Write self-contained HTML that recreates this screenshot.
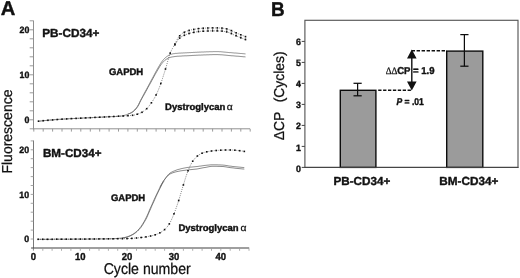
<!DOCTYPE html>
<html>
<head>
<meta charset="utf-8">
<title>Figure</title>
<style>
html, body { margin: 0; padding: 0; background: #ffffff; }
body { width: 520px; height: 278px; overflow: hidden; font-family: "Liberation Sans", sans-serif; }
svg { display: block; filter: blur(0.35px); }
text { font-family: "Liberation Sans", sans-serif; text-rendering: geometricPrecision; }
</style>
</head>
<body>
<svg width="520" height="278" viewBox="0 0 520 278">
<rect x="-5" y="-5" width="530" height="288" fill="#ffffff"/>
<g stroke="#909090" stroke-width="1" fill="none">
<line x1="33.5" y1="20.6" x2="33.5" y2="129.3"/>
<line x1="33.0" y1="128.8" x2="250.0" y2="128.8"/>
<line x1="29.7" y1="128.8" x2="33.5" y2="128.8" stroke-width="0.9"/>
<line x1="29.7" y1="119.8" x2="33.5" y2="119.8" stroke-width="0.9"/>
<line x1="29.7" y1="110.8" x2="33.5" y2="110.8" stroke-width="0.9"/>
<line x1="29.7" y1="101.8" x2="33.5" y2="101.8" stroke-width="0.9"/>
<line x1="29.7" y1="92.8" x2="33.5" y2="92.8" stroke-width="0.9"/>
<line x1="29.7" y1="83.8" x2="33.5" y2="83.8" stroke-width="0.9"/>
<line x1="29.7" y1="74.8" x2="33.5" y2="74.8" stroke-width="0.9"/>
<line x1="29.7" y1="65.8" x2="33.5" y2="65.8" stroke-width="0.9"/>
<line x1="29.7" y1="56.8" x2="33.5" y2="56.8" stroke-width="0.9"/>
<line x1="29.7" y1="47.8" x2="33.5" y2="47.8" stroke-width="0.9"/>
<line x1="29.7" y1="38.8" x2="33.5" y2="38.8" stroke-width="0.9"/>
<line x1="29.7" y1="29.8" x2="33.5" y2="29.8" stroke-width="0.9"/>
<line x1="29.7" y1="20.8" x2="33.5" y2="20.8" stroke-width="0.9"/>
<line x1="33.8" y1="128.8" x2="33.8" y2="131.60000000000002" stroke-width="0.9"/>
<line x1="43.2" y1="128.8" x2="43.2" y2="131.60000000000002" stroke-width="0.9"/>
<line x1="52.6" y1="128.8" x2="52.6" y2="131.60000000000002" stroke-width="0.9"/>
<line x1="62.0" y1="128.8" x2="62.0" y2="131.60000000000002" stroke-width="0.9"/>
<line x1="71.4" y1="128.8" x2="71.4" y2="131.60000000000002" stroke-width="0.9"/>
<line x1="80.8" y1="128.8" x2="80.8" y2="131.60000000000002" stroke-width="0.9"/>
<line x1="90.3" y1="128.8" x2="90.3" y2="131.60000000000002" stroke-width="0.9"/>
<line x1="99.7" y1="128.8" x2="99.7" y2="131.60000000000002" stroke-width="0.9"/>
<line x1="109.1" y1="128.8" x2="109.1" y2="131.60000000000002" stroke-width="0.9"/>
<line x1="118.5" y1="128.8" x2="118.5" y2="131.60000000000002" stroke-width="0.9"/>
<line x1="127.9" y1="128.8" x2="127.9" y2="131.60000000000002" stroke-width="0.9"/>
<line x1="137.3" y1="128.8" x2="137.3" y2="131.60000000000002" stroke-width="0.9"/>
<line x1="146.7" y1="128.8" x2="146.7" y2="131.60000000000002" stroke-width="0.9"/>
<line x1="156.1" y1="128.8" x2="156.1" y2="131.60000000000002" stroke-width="0.9"/>
<line x1="165.5" y1="128.8" x2="165.5" y2="131.60000000000002" stroke-width="0.9"/>
<line x1="174.9" y1="128.8" x2="174.9" y2="131.60000000000002" stroke-width="0.9"/>
<line x1="184.4" y1="128.8" x2="184.4" y2="131.60000000000002" stroke-width="0.9"/>
<line x1="193.8" y1="128.8" x2="193.8" y2="131.60000000000002" stroke-width="0.9"/>
<line x1="203.2" y1="128.8" x2="203.2" y2="131.60000000000002" stroke-width="0.9"/>
<line x1="212.6" y1="128.8" x2="212.6" y2="131.60000000000002" stroke-width="0.9"/>
<line x1="222.0" y1="128.8" x2="222.0" y2="131.60000000000002" stroke-width="0.9"/>
<line x1="231.4" y1="128.8" x2="231.4" y2="131.60000000000002" stroke-width="0.9"/>
<line x1="240.8" y1="128.8" x2="240.8" y2="131.60000000000002" stroke-width="0.9"/>
<line x1="250.2" y1="128.8" x2="250.2" y2="131.60000000000002" stroke-width="0.9"/>
</g>
<g stroke="#787878" stroke-width="1" fill="none">
<line x1="33.5" y1="140.5" x2="33.5" y2="250.2"/>
<line x1="30.7" y1="239.0" x2="33.5" y2="239.0" stroke="#9c9c9c" stroke-width="0.9"/>
<line x1="30.7" y1="230.1" x2="33.5" y2="230.1" stroke="#9c9c9c" stroke-width="0.9"/>
<line x1="30.7" y1="221.2" x2="33.5" y2="221.2" stroke="#9c9c9c" stroke-width="0.9"/>
<line x1="30.7" y1="212.2" x2="33.5" y2="212.2" stroke="#9c9c9c" stroke-width="0.9"/>
<line x1="30.7" y1="203.3" x2="33.5" y2="203.3" stroke="#9c9c9c" stroke-width="0.9"/>
<line x1="30.7" y1="194.4" x2="33.5" y2="194.4" stroke="#9c9c9c" stroke-width="0.9"/>
<line x1="30.7" y1="185.5" x2="33.5" y2="185.5" stroke="#9c9c9c" stroke-width="0.9"/>
<line x1="30.7" y1="176.6" x2="33.5" y2="176.6" stroke="#9c9c9c" stroke-width="0.9"/>
<line x1="30.7" y1="167.6" x2="33.5" y2="167.6" stroke="#9c9c9c" stroke-width="0.9"/>
<line x1="30.7" y1="158.7" x2="33.5" y2="158.7" stroke="#9c9c9c" stroke-width="0.9"/>
<line x1="30.7" y1="149.8" x2="33.5" y2="149.8" stroke="#9c9c9c" stroke-width="0.9"/>
<line x1="30.7" y1="140.9" x2="33.5" y2="140.9" stroke="#9c9c9c" stroke-width="0.9"/>
</g>
<line x1="31.1" y1="248.0" x2="249.2" y2="248.0" stroke="#404040" stroke-width="1.2"/>
<g stroke="#9a9a9a" stroke-width="0.8" fill="none">
<line x1="33.4" y1="248.5" x2="33.4" y2="250.8"/>
<line x1="42.8" y1="248.5" x2="42.8" y2="250.8"/>
<line x1="52.1" y1="248.5" x2="52.1" y2="250.8"/>
<line x1="61.5" y1="248.5" x2="61.5" y2="250.8"/>
<line x1="70.9" y1="248.5" x2="70.9" y2="250.8"/>
<line x1="80.3" y1="248.5" x2="80.3" y2="250.8"/>
<line x1="89.6" y1="248.5" x2="89.6" y2="250.8"/>
<line x1="99.0" y1="248.5" x2="99.0" y2="250.8"/>
<line x1="108.4" y1="248.5" x2="108.4" y2="250.8"/>
<line x1="117.7" y1="248.5" x2="117.7" y2="250.8"/>
<line x1="127.1" y1="248.5" x2="127.1" y2="250.8"/>
<line x1="136.5" y1="248.5" x2="136.5" y2="250.8"/>
<line x1="145.9" y1="248.5" x2="145.9" y2="250.8"/>
<line x1="155.2" y1="248.5" x2="155.2" y2="250.8"/>
<line x1="164.6" y1="248.5" x2="164.6" y2="250.8"/>
<line x1="174.0" y1="248.5" x2="174.0" y2="250.8"/>
<line x1="183.4" y1="248.5" x2="183.4" y2="250.8"/>
<line x1="192.7" y1="248.5" x2="192.7" y2="250.8"/>
<line x1="202.1" y1="248.5" x2="202.1" y2="250.8"/>
<line x1="211.5" y1="248.5" x2="211.5" y2="250.8"/>
<line x1="220.8" y1="248.5" x2="220.8" y2="250.8"/>
<line x1="230.2" y1="248.5" x2="230.2" y2="250.8"/>
<line x1="239.6" y1="248.5" x2="239.6" y2="250.8"/>
<line x1="249.0" y1="248.5" x2="249.0" y2="250.8"/>
</g>
<path d="M38.5,121.2 L39.5,121.1 L40.5,121.0 L41.5,120.9 L42.5,120.8 L43.5,120.7 L44.5,120.6 L45.5,120.5 L46.5,120.4 L47.5,120.3 L48.5,120.2 L49.5,120.1 L50.5,120.0 L51.5,120.0 L52.5,119.9 L53.5,119.8 L54.5,119.7 L55.5,119.6 L56.5,119.6 L57.5,119.5 L58.5,119.4 L59.5,119.3 L60.5,119.3 L61.5,119.2 L62.5,119.1 L63.5,119.1 L64.5,119.0 L65.5,119.0 L66.5,118.9 L67.5,118.8 L68.5,118.8 L69.5,118.7 L70.5,118.7 L71.5,118.6 L72.5,118.6 L73.5,118.5 L74.5,118.5 L75.5,118.4 L76.5,118.4 L77.5,118.3 L78.5,118.3 L79.5,118.2 L80.5,118.2 L81.5,118.1 L82.5,118.1 L83.5,118.0 L84.5,118.0 L85.5,117.9 L86.5,117.9 L87.5,117.8 L88.5,117.8 L89.5,117.7 L90.5,117.7 L91.5,117.6 L92.5,117.6 L93.5,117.5 L94.5,117.5 L95.5,117.4 L96.5,117.4 L97.5,117.3 L98.5,117.3 L99.5,117.2 L100.5,117.2 L101.5,117.1 L102.5,117.1 L103.5,117.0 L104.5,117.0 L105.5,116.9 L106.5,116.9 L107.5,116.8 L108.5,116.8 L109.5,116.7 L110.5,116.7 L111.5,116.6 L112.5,116.6 L113.5,116.5 L114.5,116.5 L115.5,116.5 L116.5,116.4 L117.5,116.4 L118.5,116.3 L119.5,116.2 L120.5,116.1 L121.5,116.0 L122.5,115.8 L123.5,115.6 L124.5,115.3 L125.5,115.0 L126.5,114.7 L127.5,114.3 L128.5,113.9 L129.5,113.5 L130.5,113.0 L131.5,112.4 L132.5,111.7 L133.5,110.9 L134.5,110.0 L135.5,108.9 L136.5,107.7 L137.5,106.3 L138.5,104.6 L139.5,102.5 L140.5,100.4 L141.5,98.5 L142.5,96.6 L143.5,94.8 L144.5,92.9 L145.5,91.1 L146.5,89.3 L147.5,87.4 L148.5,85.5 L149.5,83.7 L150.5,81.8 L151.5,79.9 L152.5,78.1 L153.5,76.2 L154.5,74.3 L155.5,72.4 L156.5,70.6 L157.5,68.8 L158.5,67.1 L159.5,65.4 L160.5,63.7 L161.5,62.2 L162.5,60.9 L163.5,59.6 L164.5,58.5 L165.5,57.6 L166.5,56.8 L167.5,56.1 L168.5,55.4 L169.5,54.9 L170.5,54.5 L171.5,54.2 L172.5,53.9 L173.5,53.7 L174.5,53.6 L175.5,53.4 L176.5,53.4 L177.5,53.3 L178.5,53.2 L179.5,53.1 L180.5,53.1 L181.5,53.0 L182.5,53.0 L183.5,52.9 L184.5,52.9 L185.5,52.8 L186.5,52.8 L187.5,52.7 L188.5,52.7 L189.5,52.6 L190.5,52.6 L191.5,52.5 L192.5,52.5 L193.5,52.4 L194.5,52.4 L195.5,52.3 L196.5,52.3 L197.5,52.2 L198.5,52.2 L199.5,52.1 L200.5,52.1 L201.5,52.0 L202.5,52.0 L203.5,52.0 L204.5,51.9 L205.5,51.9 L206.5,51.8 L207.5,51.8 L208.5,51.8 L209.5,51.7 L210.5,51.7 L211.5,51.7 L212.5,51.7 L213.5,51.6 L214.5,51.6 L215.5,51.6 L216.5,51.6 L217.5,51.6 L218.5,51.6 L219.5,51.7 L220.5,51.7 L221.5,51.8 L222.5,51.9 L223.5,52.0 L224.5,52.1 L225.5,52.2 L226.5,52.3 L227.5,52.4 L228.5,52.5 L229.5,52.6 L230.5,52.6 L231.5,52.7 L232.5,52.8 L233.5,52.9 L234.5,53.0 L235.5,53.0 L236.5,53.1 L237.5,53.2 L238.5,53.3 L239.5,53.4 L240.5,53.5 L241.5,53.5 L242.5,53.6 L243.5,53.7 L244.5,53.8 L245.5,53.9 L245.5,53.9" fill="none" stroke="#606060" stroke-width="0.72"/>
<path d="M127.9,114.1 L128.9,113.7 L129.9,113.4 L130.9,113.0 L131.9,112.6 L132.9,111.9 L133.9,111.1 L134.9,110.1 L135.9,109.1 L136.9,107.8 L137.9,106.3 L138.9,104.5 L139.9,102.4 L140.9,100.4 L141.9,98.6 L142.9,96.8 L143.9,95.0 L144.9,93.2 L145.9,91.4 L146.9,89.6 L147.9,87.7 L148.9,85.9 L149.9,84.1 L150.9,82.3 L151.9,80.4 L152.9,78.6 L153.9,76.8 L154.9,74.9 L155.9,73.1 L156.9,71.4 L157.9,69.7 L158.9,68.0 L159.9,66.3 L160.9,64.8 L161.9,63.5 L162.9,62.3 L163.9,61.3 L164.9,60.3 L165.9,59.5 L166.9,58.9 L167.9,58.4 L168.9,57.9 L169.9,57.5 L170.9,57.2 L171.9,57.0 L172.9,56.8 L173.9,56.7 L174.9,56.5 L175.9,56.4 L176.9,56.3 L177.9,56.2 L178.9,56.2 L179.9,56.1 L180.9,56.1 L181.9,56.0 L182.9,55.9 L183.9,55.9 L184.9,55.8 L185.9,55.8 L186.9,55.8 L187.9,55.7 L188.9,55.7 L189.9,55.6 L190.9,55.6 L191.9,55.5 L192.9,55.4 L193.9,55.4 L194.9,55.3 L195.9,55.3 L196.9,55.2 L197.9,55.2 L198.9,55.1 L199.9,55.1 L200.9,55.1 L201.9,55.0 L202.9,55.0 L203.9,54.9 L204.9,54.9 L205.9,54.9 L206.9,54.8 L207.9,54.8 L208.9,54.8 L209.9,54.7 L210.9,54.7 L211.9,54.7 L212.9,54.6 L213.9,54.6 L214.9,54.6 L215.9,54.6 L216.9,54.6 L217.9,54.6 L218.9,54.7 L219.9,54.7 L220.9,54.8 L221.9,54.8 L222.9,54.9 L223.9,55.0 L224.9,55.1 L225.9,55.2 L226.9,55.3 L227.9,55.4 L228.9,55.5 L229.9,55.6 L230.9,55.7 L231.9,55.8 L232.9,55.8 L233.9,55.9 L234.9,56.0 L235.9,56.1 L236.9,56.2 L237.9,56.2 L238.9,56.3 L239.9,56.4 L240.9,56.5 L241.9,56.6 L242.9,56.7 L243.9,56.8 L244.9,56.8 L245.5,56.9" fill="none" stroke="#606060" stroke-width="0.72"/>
<path d="M38.5,121.2 L39.5,121.1 L40.5,121.0 L41.5,120.9 L42.5,120.8 L43.5,120.7 L44.5,120.6 L45.5,120.5 L46.5,120.4 L47.5,120.3 L48.5,120.2 L49.5,120.1 L50.5,120.0 L51.5,120.0 L52.5,119.9 L53.5,119.8 L54.5,119.7 L55.5,119.6 L56.5,119.6 L57.5,119.5 L58.5,119.4 L59.5,119.3 L60.5,119.3 L61.5,119.2 L62.5,119.1 L63.5,119.1 L64.5,119.0 L65.5,119.0 L66.5,118.9 L67.5,118.8 L68.5,118.8 L69.5,118.7 L70.5,118.7 L71.5,118.6 L72.5,118.6 L73.5,118.5 L74.5,118.5 L75.5,118.4 L76.5,118.4 L77.5,118.3 L78.5,118.3 L79.5,118.2 L80.5,118.2 L81.5,118.1 L82.5,118.1 L83.5,118.0 L84.5,118.0 L85.5,117.9 L86.5,117.9 L87.5,117.8 L88.5,117.8 L89.5,117.7 L90.5,117.7 L91.5,117.6 L92.5,117.6 L93.5,117.5 L94.5,117.5 L95.5,117.4 L96.5,117.4 L97.5,117.3 L98.5,117.3 L99.5,117.2 L100.5,117.2 L101.5,117.1 L102.5,117.1 L103.5,117.0 L104.5,117.0 L105.5,116.9 L106.5,116.9 L107.5,116.8 L108.5,116.8 L109.5,116.7 L110.5,116.7 L111.5,116.6 L112.5,116.6 L113.5,116.5 L114.5,116.5 L115.5,116.4 L116.5,116.4 L117.5,116.3 L118.5,116.2 L119.5,116.2 L120.5,116.1 L121.5,116.1 L122.5,116.0 L123.5,116.0 L124.5,115.9 L125.5,115.9 L126.5,115.8 L127.5,115.7 L128.5,115.7 L129.5,115.6 L130.5,115.5 L131.5,115.4 L132.5,115.3 L133.5,115.2 L134.5,115.0 L135.5,114.7 L136.5,114.4 L137.5,114.1 L138.5,113.8 L139.5,113.4 L140.5,112.9 L141.5,112.5 L142.5,112.0 L143.5,111.3 L144.5,110.6 L145.5,109.8 L146.5,108.9 L147.5,107.9 L148.5,106.7 L149.5,105.4 L150.5,104.1 L151.5,102.7 L152.5,101.2 L153.5,99.6 L154.5,98.0 L155.5,96.1 L156.5,94.2 L157.5,92.0 L158.5,89.6 L159.5,87.1 L160.5,84.4 L161.5,81.6 L162.5,78.5 L163.5,75.4 L164.5,72.2 L165.5,69.1 L166.5,65.8 L167.5,62.0 L168.5,58.3 L169.5,55.0 L170.5,52.5 L171.5,50.3 L172.5,48.4 L173.5,46.6 L174.5,44.8 L175.5,42.9 L176.5,40.9 L177.5,38.9 L178.5,37.2 L179.5,35.9 L180.5,34.9 L181.5,34.0 L182.5,33.2 L183.5,32.6 L184.5,32.2 L185.5,31.7 L186.5,31.3 L187.5,30.9 L188.5,30.6 L189.5,30.3 L190.5,30.0 L191.5,29.8 L192.5,29.6 L193.5,29.4 L194.5,29.2 L195.5,29.1 L196.5,28.9 L197.5,28.7 L198.5,28.6 L199.5,28.5 L200.5,28.4 L201.5,28.3 L202.5,28.2 L203.5,28.2 L204.5,28.1 L205.5,28.1 L206.5,28.0 L207.5,28.0 L208.5,28.0 L209.5,27.9 L210.5,27.9 L211.5,27.9 L212.5,27.9 L213.5,27.9 L214.5,27.9 L215.5,27.9 L216.5,27.9 L217.5,27.9 L218.5,28.0 L219.5,28.0 L220.5,28.0 L221.5,28.1 L222.5,28.2 L223.5,28.3 L224.5,28.5 L225.5,28.7 L226.5,28.9 L227.5,29.1 L228.5,29.4 L229.5,29.8 L230.5,30.2 L231.5,30.7 L232.5,31.2 L233.5,31.7 L234.5,32.1 L235.5,32.6 L236.5,33.0 L237.5,33.4 L238.5,33.8 L239.5,34.2 L240.5,34.6 L241.5,35.0 L242.5,35.4 L243.5,35.8 L244.5,36.2 L245.5,36.6 L245.5,36.6" fill="none" stroke="#333" stroke-width="0.7" stroke-dasharray="0.8 1.2"/>
<rect x="37.7" y="120.4" width="1.6" height="1.6" fill="#111"/>
<rect x="42.4" y="119.9" width="1.6" height="1.6" fill="#111"/>
<rect x="47.1" y="119.5" width="1.6" height="1.6" fill="#111"/>
<rect x="51.8" y="119.1" width="1.6" height="1.6" fill="#111"/>
<rect x="56.5" y="118.7" width="1.6" height="1.6" fill="#111"/>
<rect x="61.2" y="118.4" width="1.6" height="1.6" fill="#111"/>
<rect x="65.9" y="118.1" width="1.6" height="1.6" fill="#111"/>
<rect x="70.6" y="117.8" width="1.6" height="1.6" fill="#111"/>
<rect x="75.3" y="117.6" width="1.6" height="1.6" fill="#111"/>
<rect x="80.0" y="117.4" width="1.6" height="1.6" fill="#111"/>
<rect x="84.8" y="117.1" width="1.6" height="1.6" fill="#111"/>
<rect x="89.5" y="116.9" width="1.6" height="1.6" fill="#111"/>
<rect x="94.2" y="116.6" width="1.6" height="1.6" fill="#111"/>
<rect x="98.9" y="116.4" width="1.6" height="1.6" fill="#111"/>
<rect x="103.6" y="116.2" width="1.6" height="1.6" fill="#111"/>
<rect x="108.3" y="115.9" width="1.6" height="1.6" fill="#111"/>
<rect x="113.0" y="115.7" width="1.6" height="1.6" fill="#111"/>
<rect x="117.7" y="115.4" width="1.6" height="1.6" fill="#111"/>
<rect x="122.4" y="115.2" width="1.6" height="1.6" fill="#111"/>
<rect x="127.1" y="114.9" width="1.6" height="1.6" fill="#111"/>
<rect x="131.8" y="114.5" width="1.6" height="1.6" fill="#111"/>
<rect x="136.5" y="113.4" width="1.6" height="1.6" fill="#111"/>
<rect x="141.2" y="111.5" width="1.6" height="1.6" fill="#111"/>
<rect x="145.9" y="107.9" width="1.6" height="1.6" fill="#111"/>
<rect x="150.6" y="102.0" width="1.6" height="1.6" fill="#111"/>
<rect x="155.3" y="94.1" width="1.6" height="1.6" fill="#111"/>
<rect x="160.0" y="82.7" width="1.6" height="1.6" fill="#111"/>
<rect x="164.7" y="68.2" width="1.6" height="1.6" fill="#111"/>
<rect x="169.4" y="52.3" width="1.6" height="1.6" fill="#111"/>
<rect x="174.1" y="43.2" width="1.6" height="1.6" fill="#111"/>
<rect x="178.9" y="35.0" width="1.6" height="1.6" fill="#111"/>
<rect x="183.6" y="31.4" width="1.6" height="1.6" fill="#111"/>
<rect x="188.3" y="29.6" width="1.6" height="1.6" fill="#111"/>
<rect x="193.0" y="28.6" width="1.6" height="1.6" fill="#111"/>
<rect x="197.7" y="27.8" width="1.6" height="1.6" fill="#111"/>
<rect x="202.4" y="27.4" width="1.6" height="1.6" fill="#111"/>
<rect x="207.1" y="27.2" width="1.6" height="1.6" fill="#111"/>
<rect x="211.8" y="27.1" width="1.6" height="1.6" fill="#111"/>
<rect x="216.5" y="27.1" width="1.6" height="1.6" fill="#111"/>
<rect x="221.2" y="27.3" width="1.6" height="1.6" fill="#111"/>
<rect x="225.9" y="28.1" width="1.6" height="1.6" fill="#111"/>
<rect x="230.6" y="29.8" width="1.6" height="1.6" fill="#111"/>
<rect x="235.3" y="32.0" width="1.6" height="1.6" fill="#111"/>
<rect x="240.0" y="34.0" width="1.6" height="1.6" fill="#111"/>
<rect x="244.7" y="35.8" width="1.6" height="1.6" fill="#111"/>
<rect x="174.4" y="43.9" width="1.1" height="1.1" fill="#888"/>
<rect x="179.1" y="36.4" width="1.1" height="1.1" fill="#888"/>
<rect x="183.8" y="33.2" width="1.1" height="1.1" fill="#888"/>
<rect x="188.5" y="31.4" width="1.1" height="1.1" fill="#888"/>
<rect x="193.2" y="30.3" width="1.1" height="1.1" fill="#888"/>
<rect x="197.9" y="29.6" width="1.1" height="1.1" fill="#888"/>
<rect x="202.6" y="29.1" width="1.1" height="1.1" fill="#888"/>
<rect x="207.3" y="28.9" width="1.1" height="1.1" fill="#888"/>
<rect x="212.0" y="28.9" width="1.1" height="1.1" fill="#888"/>
<rect x="216.7" y="28.9" width="1.1" height="1.1" fill="#888"/>
<rect x="221.4" y="29.1" width="1.1" height="1.1" fill="#888"/>
<rect x="226.2" y="29.9" width="1.1" height="1.1" fill="#888"/>
<rect x="230.9" y="31.6" width="1.1" height="1.1" fill="#888"/>
<rect x="235.6" y="33.8" width="1.1" height="1.1" fill="#888"/>
<rect x="240.3" y="35.7" width="1.1" height="1.1" fill="#888"/>
<rect x="245.0" y="37.6" width="1.1" height="1.1" fill="#888"/>
<path d="M174.9,44.9 L175.9,43.3 L176.9,41.6 L177.9,40.0 L178.9,38.8 L179.9,37.9 L180.9,37.1 L181.9,36.5 L182.9,35.9 L183.9,35.4 L184.9,35.0 L185.9,34.6 L186.9,34.2 L187.9,33.8 L188.9,33.5 L189.9,33.2 L190.9,33.0 L191.9,32.7 L192.9,32.5 L193.9,32.3 L194.9,32.1 L195.9,32.0 L196.9,31.8 L197.9,31.7 L198.9,31.6 L199.9,31.4 L200.9,31.3 L201.9,31.3 L202.9,31.2 L203.9,31.2 L204.9,31.1 L205.9,31.1 L206.9,31.0 L207.9,31.0 L208.9,31.0 L209.9,30.9 L210.9,30.9 L211.9,30.9 L212.9,30.9 L213.9,30.9 L214.9,30.9 L215.9,30.9 L216.9,30.9 L217.9,31.0 L218.9,31.0 L219.9,31.0 L220.9,31.0 L221.9,31.1 L222.9,31.3 L223.9,31.4 L224.9,31.6 L225.9,31.8 L226.9,32.0 L227.9,32.2 L228.9,32.6 L229.9,33.0 L230.9,33.4 L231.9,33.9 L232.9,34.4 L233.9,34.9 L234.9,35.3 L235.9,35.8 L236.9,36.2 L237.9,36.6 L238.9,37.0 L239.9,37.4 L240.9,37.8 L241.9,38.2 L242.9,38.6 L243.9,39.0 L244.9,39.4 L245.5,39.6" fill="none" stroke="#333" stroke-width="0.7" stroke-dasharray="0.8 1.2"/>
<rect x="174.1" y="44.1" width="1.6" height="1.6" fill="#111"/>
<rect x="178.9" y="37.3" width="1.6" height="1.6" fill="#111"/>
<rect x="183.6" y="34.5" width="1.6" height="1.6" fill="#111"/>
<rect x="188.3" y="32.7" width="1.6" height="1.6" fill="#111"/>
<rect x="193.0" y="31.6" width="1.6" height="1.6" fill="#111"/>
<rect x="197.7" y="30.8" width="1.6" height="1.6" fill="#111"/>
<rect x="202.4" y="30.4" width="1.6" height="1.6" fill="#111"/>
<rect x="207.1" y="30.2" width="1.6" height="1.6" fill="#111"/>
<rect x="211.8" y="30.1" width="1.6" height="1.6" fill="#111"/>
<rect x="216.5" y="30.1" width="1.6" height="1.6" fill="#111"/>
<rect x="221.2" y="30.3" width="1.6" height="1.6" fill="#111"/>
<rect x="225.9" y="31.1" width="1.6" height="1.6" fill="#111"/>
<rect x="230.6" y="32.8" width="1.6" height="1.6" fill="#111"/>
<rect x="235.3" y="35.0" width="1.6" height="1.6" fill="#111"/>
<rect x="240.0" y="37.0" width="1.6" height="1.6" fill="#111"/>
<rect x="244.7" y="38.8" width="1.6" height="1.6" fill="#111"/>
<path d="M38.1,239.3 L39.1,239.3 L40.1,239.3 L41.1,239.3 L42.1,239.3 L43.1,239.3 L44.1,239.3 L45.1,239.3 L46.1,239.3 L47.1,239.3 L48.1,239.3 L49.1,239.3 L50.1,239.3 L51.1,239.3 L52.1,239.3 L53.1,239.3 L54.1,239.2 L55.1,239.2 L56.1,239.2 L57.1,239.2 L58.1,239.2 L59.1,239.2 L60.1,239.2 L61.1,239.2 L62.1,239.2 L63.1,239.2 L64.1,239.2 L65.1,239.2 L66.1,239.2 L67.1,239.2 L68.1,239.2 L69.1,239.2 L70.1,239.2 L71.1,239.2 L72.1,239.2 L73.1,239.1 L74.1,239.1 L75.1,239.1 L76.1,239.1 L77.1,239.1 L78.1,239.1 L79.1,239.1 L80.1,239.1 L81.1,239.1 L82.1,239.1 L83.1,239.1 L84.1,239.1 L85.1,239.1 L86.1,239.1 L87.1,239.1 L88.1,239.0 L89.1,239.0 L90.1,239.0 L91.1,239.0 L92.1,239.0 L93.1,239.0 L94.1,239.0 L95.1,239.0 L96.1,239.0 L97.1,239.0 L98.1,239.0 L99.1,239.0 L100.1,238.9 L101.1,238.9 L102.1,238.9 L103.1,238.9 L104.1,238.9 L105.1,238.9 L106.1,238.9 L107.1,238.9 L108.1,238.8 L109.1,238.8 L110.1,238.8 L111.1,238.8 L112.1,238.7 L113.1,238.7 L114.1,238.7 L115.1,238.6 L116.1,238.5 L117.1,238.5 L118.1,238.4 L119.1,238.3 L120.1,238.2 L121.1,238.1 L122.1,238.0 L123.1,237.8 L124.1,237.6 L125.1,237.4 L126.1,237.2 L127.1,236.9 L128.1,236.5 L129.1,236.1 L130.1,235.7 L131.1,235.2 L132.1,234.7 L133.1,234.1 L134.1,233.4 L135.1,232.7 L136.1,231.9 L137.1,231.0 L138.1,230.0 L139.1,229.0 L140.1,227.7 L141.1,226.4 L142.1,224.9 L143.1,223.2 L144.1,221.6 L145.1,219.8 L146.1,217.8 L147.1,215.7 L148.1,213.4 L149.1,211.0 L150.1,208.7 L151.1,206.4 L152.1,204.2 L153.1,202.0 L154.1,199.7 L155.1,197.5 L156.1,195.3 L157.1,193.2 L158.1,191.2 L159.1,189.1 L160.1,187.1 L161.1,185.1 L162.1,183.3 L163.1,181.6 L164.1,180.1 L165.1,178.7 L166.1,177.3 L167.1,176.0 L168.1,174.8 L169.1,173.8 L170.1,173.0 L171.1,172.4 L172.1,171.9 L173.1,171.4 L174.1,171.0 L175.1,170.6 L176.1,170.2 L177.1,169.8 L178.1,169.5 L179.1,169.3 L180.1,169.0 L181.1,168.7 L182.1,168.5 L183.1,168.3 L184.1,168.1 L185.1,167.9 L186.1,167.7 L187.1,167.5 L188.1,167.4 L189.1,167.3 L190.1,167.2 L191.1,167.1 L192.1,167.0 L193.1,166.9 L194.1,166.8 L195.1,166.7 L196.1,166.6 L197.1,166.5 L198.1,166.4 L199.1,166.2 L200.1,166.1 L201.1,166.0 L202.1,165.8 L203.1,165.7 L204.1,165.5 L205.1,165.4 L206.1,165.3 L207.1,165.2 L208.1,165.1 L209.1,165.0 L210.1,164.9 L211.1,164.8 L212.1,164.8 L213.1,164.8 L214.1,164.8 L215.1,164.8 L216.1,164.8 L217.1,164.8 L218.1,164.9 L219.1,164.9 L220.1,164.9 L221.1,165.0 L222.1,165.0 L223.1,165.1 L224.1,165.2 L225.1,165.3 L226.1,165.5 L227.1,165.6 L228.1,165.8 L229.1,166.0 L230.1,166.1 L231.1,166.2 L232.1,166.4 L233.1,166.5 L234.1,166.6 L235.1,166.7 L236.1,166.8 L237.1,166.9 L238.1,167.0 L239.1,167.1 L240.1,167.2 L241.1,167.3 L242.1,167.4 L243.1,167.5 L244.1,167.6 L244.3,167.6" fill="none" stroke="#606060" stroke-width="0.72"/>
<path d="M160.0,187.2 L161.0,185.3 L162.0,183.4 L163.0,181.8 L164.0,180.4 L165.0,179.1 L166.0,177.8 L167.0,176.7 L168.0,175.6 L169.0,174.7 L170.0,174.0 L171.0,173.5 L172.0,173.1 L173.0,172.7 L174.0,172.4 L175.0,172.1 L176.0,171.8 L177.0,171.6 L178.0,171.4 L179.0,171.2 L180.0,171.0 L181.0,170.8 L182.0,170.7 L183.0,170.5 L184.0,170.4 L185.0,170.3 L186.0,170.1 L187.0,170.0 L188.0,169.9 L189.0,169.8 L190.0,169.7 L191.0,169.6 L192.0,169.5 L193.0,169.4 L194.0,169.3 L195.0,169.2 L196.0,169.1 L197.0,169.0 L198.0,168.8 L199.0,168.6 L200.0,168.4 L201.0,168.2 L202.0,168.0 L203.0,167.8 L204.0,167.6 L205.0,167.5 L206.0,167.3 L207.0,167.1 L208.0,166.9 L209.0,166.7 L210.0,166.5 L211.0,166.4 L212.0,166.3 L213.0,166.3 L214.0,166.3 L215.0,166.3 L216.0,166.3 L217.0,166.3 L218.0,166.4 L219.0,166.4 L220.0,166.4 L221.0,166.5 L222.0,166.5 L223.0,166.5 L224.0,166.6 L225.0,166.8 L226.0,166.9 L227.0,167.1 L228.0,167.3 L229.0,167.4 L230.0,167.6 L231.0,167.7 L232.0,167.8 L233.0,167.9 L234.0,168.0 L235.0,168.2 L236.0,168.3 L237.0,168.4 L238.0,168.5 L239.0,168.6 L240.0,168.7 L241.0,168.8 L242.0,168.9 L243.0,169.0 L244.0,169.0 L244.3,169.1" fill="none" stroke="#606060" stroke-width="0.72"/>
<path d="M122.0,238.1 L123.0,237.9 L124.0,237.8 L125.0,237.6 L126.0,237.3 L127.0,237.1 L128.0,236.8 L129.0,236.4 L130.0,236.0 L131.0,235.5 L132.0,235.0 L133.0,234.5 L134.0,233.9 L135.0,233.2 L136.0,232.4 L137.0,231.6 L138.0,230.6 L139.0,229.7 L140.0,228.5 L141.0,227.3 L142.0,225.8 L143.0,224.3 L144.0,222.6 L145.0,220.9 L146.0,219.1 L147.0,217.1 L148.0,214.8 L149.0,212.5 L150.0,210.2 L151.0,207.9 L152.0,205.6 L153.0,203.4 L154.0,201.2 L155.0,198.9 L156.0,196.7 L157.0,194.6 L158.0,192.5 L159.0,190.4 L160.0,188.4 L161.0,186.4 L162.0,184.4 L163.0,182.7 L164.0,181.1" fill="none" stroke="#606060" stroke-width="0.72"/>
<path d="M38.1,239.3 L39.1,239.3 L40.1,239.3 L41.1,239.3 L42.1,239.3 L43.1,239.3 L44.1,239.3 L45.1,239.3 L46.1,239.3 L47.1,239.3 L48.1,239.3 L49.1,239.3 L50.1,239.3 L51.1,239.3 L52.1,239.3 L53.1,239.3 L54.1,239.2 L55.1,239.2 L56.1,239.2 L57.1,239.2 L58.1,239.2 L59.1,239.2 L60.1,239.2 L61.1,239.2 L62.1,239.2 L63.1,239.2 L64.1,239.2 L65.1,239.2 L66.1,239.2 L67.1,239.2 L68.1,239.2 L69.1,239.2 L70.1,239.2 L71.1,239.2 L72.1,239.2 L73.1,239.1 L74.1,239.1 L75.1,239.1 L76.1,239.1 L77.1,239.1 L78.1,239.1 L79.1,239.1 L80.1,239.1 L81.1,239.1 L82.1,239.1 L83.1,239.1 L84.1,239.1 L85.1,239.1 L86.1,239.1 L87.1,239.0 L88.1,239.0 L89.1,239.0 L90.1,239.0 L91.1,239.0 L92.1,239.0 L93.1,239.0 L94.1,239.0 L95.1,239.0 L96.1,239.0 L97.1,238.9 L98.1,238.9 L99.1,238.9 L100.1,238.9 L101.1,238.9 L102.1,238.9 L103.1,238.9 L104.1,238.9 L105.1,238.9 L106.1,238.8 L107.1,238.8 L108.1,238.8 L109.1,238.8 L110.1,238.8 L111.1,238.8 L112.1,238.8 L113.1,238.8 L114.1,238.8 L115.1,238.8 L116.1,238.7 L117.1,238.7 L118.1,238.7 L119.1,238.7 L120.1,238.7 L121.1,238.7 L122.1,238.7 L123.1,238.7 L124.1,238.7 L125.1,238.6 L126.1,238.6 L127.1,238.6 L128.1,238.6 L129.1,238.5 L130.1,238.5 L131.1,238.4 L132.1,238.4 L133.1,238.3 L134.1,238.2 L135.1,238.1 L136.1,238.0 L137.1,237.9 L138.1,237.9 L139.1,237.7 L140.1,237.6 L141.1,237.5 L142.1,237.4 L143.1,237.3 L144.1,237.2 L145.1,237.0 L146.1,236.9 L147.1,236.7 L148.1,236.5 L149.1,236.3 L150.1,236.1 L151.1,235.9 L152.1,235.7 L153.1,235.4 L154.1,235.1 L155.1,234.8 L156.1,234.5 L157.1,234.1 L158.1,233.7 L159.1,233.2 L160.1,232.7 L161.1,232.2 L162.1,231.5 L163.1,230.8 L164.1,230.0 L165.1,229.2 L166.1,228.1 L167.1,227.0 L168.1,225.7 L169.1,224.2 L170.1,222.6 L171.1,220.6 L172.1,218.4 L173.1,216.0 L174.1,213.5 L175.1,211.0 L176.1,208.2 L177.1,205.3 L178.1,202.3 L179.1,199.2 L180.1,195.9 L181.1,192.5 L182.1,189.1 L183.1,185.7 L184.1,182.6 L185.1,179.3 L186.1,176.2 L187.1,173.3 L188.1,170.7 L189.1,168.3 L190.1,166.0 L191.1,164.0 L192.1,162.2 L193.1,160.7 L194.1,159.4 L195.1,158.2 L196.1,157.2 L197.1,156.3 L198.1,155.5 L199.1,154.8 L200.1,154.2 L201.1,153.6 L202.1,153.2 L203.1,152.8 L204.1,152.5 L205.1,152.2 L206.1,152.0 L207.1,151.7 L208.1,151.5 L209.1,151.4 L210.1,151.2 L211.1,151.1 L212.1,150.9 L213.1,150.8 L214.1,150.7 L215.1,150.6 L216.1,150.5 L217.1,150.4 L218.1,150.4 L219.1,150.3 L220.1,150.2 L221.1,150.2 L222.1,150.1 L223.1,150.1 L224.1,150.0 L225.1,150.0 L226.1,150.0 L227.1,150.0 L228.1,150.0 L229.1,150.0 L230.1,150.0 L231.1,150.0 L232.1,150.0 L233.1,150.1 L234.1,150.2 L235.1,150.2 L236.1,150.3 L237.1,150.4 L238.1,150.5 L239.1,150.6 L240.1,150.8 L241.1,150.9 L242.1,151.0 L243.1,151.2 L244.1,151.4 L244.3,151.4" fill="none" stroke="#333" stroke-width="0.7" stroke-dasharray="0.8 1.2"/>
<rect x="37.3" y="238.5" width="1.6" height="1.6" fill="#111"/>
<rect x="42.0" y="238.5" width="1.6" height="1.6" fill="#111"/>
<rect x="46.7" y="238.5" width="1.6" height="1.6" fill="#111"/>
<rect x="51.3" y="238.5" width="1.6" height="1.6" fill="#111"/>
<rect x="56.0" y="238.4" width="1.6" height="1.6" fill="#111"/>
<rect x="60.7" y="238.4" width="1.6" height="1.6" fill="#111"/>
<rect x="65.4" y="238.4" width="1.6" height="1.6" fill="#111"/>
<rect x="70.1" y="238.4" width="1.6" height="1.6" fill="#111"/>
<rect x="74.8" y="238.3" width="1.6" height="1.6" fill="#111"/>
<rect x="79.5" y="238.3" width="1.6" height="1.6" fill="#111"/>
<rect x="84.1" y="238.3" width="1.6" height="1.6" fill="#111"/>
<rect x="88.8" y="238.2" width="1.6" height="1.6" fill="#111"/>
<rect x="93.5" y="238.2" width="1.6" height="1.6" fill="#111"/>
<rect x="98.2" y="238.1" width="1.6" height="1.6" fill="#111"/>
<rect x="102.9" y="238.1" width="1.6" height="1.6" fill="#111"/>
<rect x="107.6" y="238.0" width="1.6" height="1.6" fill="#111"/>
<rect x="112.3" y="238.0" width="1.6" height="1.6" fill="#111"/>
<rect x="116.9" y="237.9" width="1.6" height="1.6" fill="#111"/>
<rect x="121.6" y="237.9" width="1.6" height="1.6" fill="#111"/>
<rect x="126.3" y="237.8" width="1.6" height="1.6" fill="#111"/>
<rect x="131.0" y="237.6" width="1.6" height="1.6" fill="#111"/>
<rect x="135.7" y="237.2" width="1.6" height="1.6" fill="#111"/>
<rect x="140.4" y="236.7" width="1.6" height="1.6" fill="#111"/>
<rect x="145.1" y="236.1" width="1.6" height="1.6" fill="#111"/>
<rect x="149.8" y="235.2" width="1.6" height="1.6" fill="#111"/>
<rect x="154.4" y="234.0" width="1.6" height="1.6" fill="#111"/>
<rect x="159.1" y="232.0" width="1.6" height="1.6" fill="#111"/>
<rect x="163.8" y="228.8" width="1.6" height="1.6" fill="#111"/>
<rect x="168.5" y="223.1" width="1.6" height="1.6" fill="#111"/>
<rect x="173.2" y="213.0" width="1.6" height="1.6" fill="#111"/>
<rect x="177.9" y="199.7" width="1.6" height="1.6" fill="#111"/>
<rect x="182.6" y="184.1" width="1.6" height="1.6" fill="#111"/>
<rect x="187.2" y="170.0" width="1.6" height="1.6" fill="#111"/>
<rect x="191.9" y="160.4" width="1.6" height="1.6" fill="#111"/>
<rect x="196.6" y="155.2" width="1.6" height="1.6" fill="#111"/>
<rect x="201.3" y="152.4" width="1.6" height="1.6" fill="#111"/>
<rect x="206.0" y="151.0" width="1.6" height="1.6" fill="#111"/>
<rect x="210.7" y="150.2" width="1.6" height="1.6" fill="#111"/>
<rect x="215.4" y="149.7" width="1.6" height="1.6" fill="#111"/>
<rect x="220.0" y="149.4" width="1.6" height="1.6" fill="#111"/>
<rect x="224.7" y="149.2" width="1.6" height="1.6" fill="#111"/>
<rect x="229.4" y="149.2" width="1.6" height="1.6" fill="#111"/>
<rect x="234.1" y="149.4" width="1.6" height="1.6" fill="#111"/>
<rect x="238.8" y="149.9" width="1.6" height="1.6" fill="#111"/>
<rect x="243.5" y="150.6" width="1.6" height="1.6" fill="#111"/>
<rect x="304.9" y="20.3" width="213.10000000000002" height="147.1" fill="#fff" stroke="#585858" stroke-width="1.15"/>
<line x1="301.7" y1="167.4" x2="304.9" y2="167.4" stroke="#444" stroke-width="1"/>
<line x1="301.7" y1="146.4" x2="304.9" y2="146.4" stroke="#444" stroke-width="1"/>
<line x1="301.7" y1="125.4" x2="304.9" y2="125.4" stroke="#444" stroke-width="1"/>
<line x1="301.7" y1="104.4" x2="304.9" y2="104.4" stroke="#444" stroke-width="1"/>
<line x1="301.7" y1="83.4" x2="304.9" y2="83.4" stroke="#444" stroke-width="1"/>
<line x1="301.7" y1="62.4" x2="304.9" y2="62.4" stroke="#444" stroke-width="1"/>
<line x1="301.7" y1="41.4" x2="304.9" y2="41.4" stroke="#444" stroke-width="1"/>
<rect x="340.3" y="90.3" width="35.6" height="77.1" fill="#9b9b9b" stroke="#0c0c0c" stroke-width="1.4"/>
<rect x="446.7" y="51.1" width="36.1" height="116.3" fill="#9b9b9b" stroke="#0c0c0c" stroke-width="1.4"/>
<line x1="304.4" y1="167.4" x2="518.5" y2="167.4" stroke="#444" stroke-width="1.0"/>
<g stroke="#0c0c0c" stroke-width="1.25" fill="none">
<line x1="357.6" y1="83.3" x2="357.6" y2="95.8"/>
<line x1="353.5" y1="83.3" x2="361.70000000000005" y2="83.3"/>
<line x1="353.5" y1="95.8" x2="361.70000000000005" y2="95.8"/>
</g>
<g stroke="#0c0c0c" stroke-width="1.25" fill="none">
<line x1="464.4" y1="34.6" x2="464.4" y2="66.2"/>
<line x1="460.29999999999995" y1="34.6" x2="468.5" y2="34.6"/>
<line x1="460.29999999999995" y1="66.2" x2="468.5" y2="66.2"/>
</g>
<line x1="378.2" y1="90.2" x2="412.5" y2="90.2" stroke="#111" stroke-width="1.5" stroke-dasharray="3.3 1.6"/>
<line x1="411.6" y1="50.8" x2="446.7" y2="50.8" stroke="#111" stroke-width="1.5" stroke-dasharray="3.4 1.6"/>
<line x1="411.8" y1="56" x2="411.8" y2="84" stroke="#111" stroke-width="1.4"/>
<path d="M411.8,49.5 L407.0,58.6 L416.6,58.6 Z" fill="#111"/>
<path d="M411.8,90.6 L407.0,81.4 L416.6,81.4 Z" fill="#111"/>
<g>
<text transform="translate(0.7,15.3) scale(1.01,1)" font-size="20.0" font-weight="bold" text-anchor="start" fill="#111" stroke="#111" stroke-width="0.4" stroke-linejoin="round" >A</text>
<text transform="translate(271.1,15.5) scale(0.95,1)" font-size="19.9" font-weight="bold" text-anchor="start" fill="#111" stroke="#111" stroke-width="0.4" stroke-linejoin="round" >B</text>
<text transform="translate(42.2,37.0)" font-size="11.75" font-weight="bold" text-anchor="start" fill="#111" stroke="#111" stroke-width="0.4" stroke-linejoin="round" >PB-CD34+</text>
<text transform="translate(42.95,157.35)" font-size="11.65" font-weight="bold" text-anchor="start" fill="#111" stroke="#111" stroke-width="0.4" stroke-linejoin="round" >BM-CD34+</text>
<text transform="translate(108.9,74.9)" font-size="9.5" font-weight="bold" text-anchor="start" fill="#111" stroke="#111" stroke-width="0.4" stroke-linejoin="round" >GAPDH</text>
<text transform="translate(165.1,110.3)" font-size="9.5" font-weight="bold" text-anchor="start" fill="#111" stroke="#111" stroke-width="0.4" stroke-linejoin="round" >Dystroglycan</text>
<text transform="translate(226.7,110.3) scale(1.08,1)" font-size="9.6" font-weight="normal" text-anchor="start" fill="#111" stroke="#111" stroke-width="0.25" stroke-linejoin="round" >&#945;</text>
<text transform="translate(110.9,201.3)" font-size="9.5" font-weight="bold" text-anchor="start" fill="#111" stroke="#111" stroke-width="0.4" stroke-linejoin="round" >GAPDH</text>
<text transform="translate(178.4,230.9)" font-size="9.5" font-weight="bold" text-anchor="start" fill="#111" stroke="#111" stroke-width="0.4" stroke-linejoin="round" >Dystroglycan</text>
<text transform="translate(240.4,230.9) scale(1.08,1)" font-size="9.6" font-weight="normal" text-anchor="start" fill="#111" stroke="#111" stroke-width="0.25" stroke-linejoin="round" >&#945;</text>
<text transform="translate(29.3,32.6) scale(0.96,1)" font-size="9.2" font-weight="bold" text-anchor="end" fill="#111" stroke="#111" stroke-width="0.4" stroke-linejoin="round" >20</text>
<text transform="translate(29.3,78.0) scale(0.96,1)" font-size="9.2" font-weight="bold" text-anchor="end" fill="#111" stroke="#111" stroke-width="0.4" stroke-linejoin="round" >10</text>
<text transform="translate(29.3,123.1) scale(0.96,1)" font-size="9.2" font-weight="bold" text-anchor="end" fill="#111" stroke="#111" stroke-width="0.4" stroke-linejoin="round" >0</text>
<text transform="translate(29.1,152.9) scale(0.96,1)" font-size="9.2" font-weight="bold" text-anchor="end" fill="#111" stroke="#111" stroke-width="0.4" stroke-linejoin="round" >20</text>
<text transform="translate(29.1,197.6) scale(0.96,1)" font-size="9.2" font-weight="bold" text-anchor="end" fill="#111" stroke="#111" stroke-width="0.4" stroke-linejoin="round" >10</text>
<text transform="translate(29.1,241.7) scale(0.96,1)" font-size="9.2" font-weight="bold" text-anchor="end" fill="#111" stroke="#111" stroke-width="0.4" stroke-linejoin="round" >0</text>
<text transform="translate(33.3,259.8) scale(0.94,1)" font-size="10.1" font-weight="bold" text-anchor="middle" fill="#111" stroke="#111" stroke-width="0.4" stroke-linejoin="round" >0</text>
<text transform="translate(80.2,259.8) scale(0.94,1)" font-size="10.1" font-weight="bold" text-anchor="middle" fill="#111" stroke="#111" stroke-width="0.4" stroke-linejoin="round" >10</text>
<text transform="translate(127.0,259.8) scale(0.94,1)" font-size="10.1" font-weight="bold" text-anchor="middle" fill="#111" stroke="#111" stroke-width="0.4" stroke-linejoin="round" >20</text>
<text transform="translate(173.9,259.8) scale(0.94,1)" font-size="10.1" font-weight="bold" text-anchor="middle" fill="#111" stroke="#111" stroke-width="0.4" stroke-linejoin="round" >30</text>
<text transform="translate(220.7,259.8) scale(0.94,1)" font-size="10.1" font-weight="bold" text-anchor="middle" fill="#111" stroke="#111" stroke-width="0.4" stroke-linejoin="round" >40</text>
<text transform="translate(147.2,274.4) scale(0.905,1)" font-size="15.6" font-weight="normal" text-anchor="middle" fill="#111" stroke="#111" stroke-width="0.25" stroke-linejoin="round" >Cycle number</text>
<text transform="translate(12.0,131.55) rotate(-90) scale(0.973,1)" font-size="14.4" font-weight="normal" text-anchor="middle" fill="#111" stroke="#111" stroke-width="0.25" stroke-linejoin="round" >Fluorescence</text>
<text transform="translate(300.8,171.8) scale(0.96,1)" font-size="9.2" font-weight="bold" text-anchor="end" fill="#111" stroke="#111" stroke-width="0.4" stroke-linejoin="round" >0</text>
<text transform="translate(300.8,150.6) scale(0.96,1)" font-size="9.2" font-weight="bold" text-anchor="end" fill="#111" stroke="#111" stroke-width="0.4" stroke-linejoin="round" >1</text>
<text transform="translate(300.8,129.4) scale(0.96,1)" font-size="9.2" font-weight="bold" text-anchor="end" fill="#111" stroke="#111" stroke-width="0.4" stroke-linejoin="round" >2</text>
<text transform="translate(300.8,108.3) scale(0.96,1)" font-size="9.2" font-weight="bold" text-anchor="end" fill="#111" stroke="#111" stroke-width="0.4" stroke-linejoin="round" >3</text>
<text transform="translate(300.8,87.1) scale(0.96,1)" font-size="9.2" font-weight="bold" text-anchor="end" fill="#111" stroke="#111" stroke-width="0.4" stroke-linejoin="round" >4</text>
<text transform="translate(300.8,65.9) scale(0.96,1)" font-size="9.2" font-weight="bold" text-anchor="end" fill="#111" stroke="#111" stroke-width="0.4" stroke-linejoin="round" >5</text>
<text transform="translate(300.8,44.8) scale(0.96,1)" font-size="9.2" font-weight="bold" text-anchor="end" fill="#111" stroke="#111" stroke-width="0.4" stroke-linejoin="round" >6</text>
<text transform="translate(333.5,185.2)" font-size="11.68" font-weight="bold" text-anchor="start" fill="#111" stroke="#111" stroke-width="0.4" stroke-linejoin="round" >PB-CD34+</text>
<text transform="translate(439.3,185.2)" font-size="11.75" font-weight="bold" text-anchor="start" fill="#111" stroke="#111" stroke-width="0.4" stroke-linejoin="round" >BM-CD34+</text>
<text transform="translate(284.2,95.9) rotate(-90) scale(0.965,1)" font-size="14.4" font-weight="normal" text-anchor="middle" fill="#111" stroke="#111" stroke-width="0.25" stroke-linejoin="round" xml:space="preserve" word-spacing="1">&#916;CP  (Cycles)</text>
<text transform="translate(385.7,74.3) scale(0.93,1)" font-size="9.9" font-weight="normal" text-anchor="start" fill="#111" stroke="#111" stroke-width="0.25" stroke-linejoin="round" style="font-family:'Liberation Serif',serif">&#916;&#916;</text>
<text transform="translate(397.2,74.3) scale(0.955,1)" font-size="10.0" font-weight="bold" text-anchor="start" fill="#111" stroke="#111" stroke-width="0.4" stroke-linejoin="round" >CP = 1.9</text>
<text transform="translate(396.4,105.3) scale(0.875,1)" font-size="9.8" font-weight="bold" text-anchor="start" fill="#111" stroke="#111" stroke-width="0.4" stroke-linejoin="round" ><tspan font-style="italic">P</tspan> = .01</text>
</g>
</svg>
</body>
</html>
